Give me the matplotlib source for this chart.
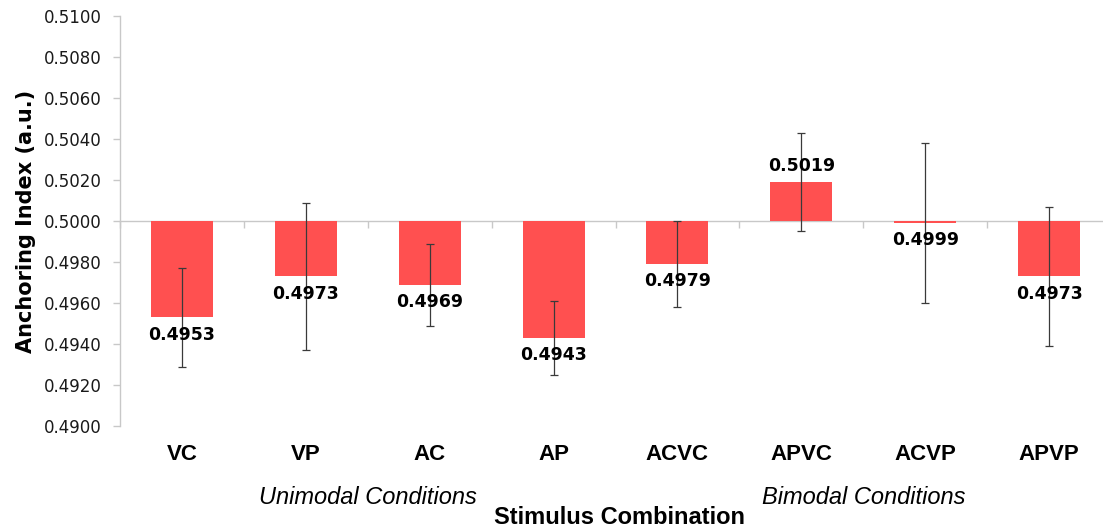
import matplotlib
matplotlib.use("Agg")
import matplotlib.pyplot as plt
import matplotlib.transforms as mtransforms
from matplotlib import font_manager

# Data
categories = ["VC", "VP", "AC", "AP", "ACVC", "APVC", "ACVP", "APVP"]
values = [0.4953, 0.4973, 0.4969, 0.4943, 0.4979, 0.5019, 0.4999, 0.4973]
errors = [0.0024, 0.0036, 0.0020, 0.0018, 0.0021, 0.0024, 0.0039, 0.0034]
yticks = [0.4900, 0.4920, 0.4940, 0.4960, 0.4980, 0.5000,
          0.5020, 0.5040, 0.5060, 0.5080, 0.5100]
baseline = 0.5
group_labels = ["Unimodal Conditions", "Bimodal Conditions"]
group_centers = [1.5, 5.5]

names = {f.name for f in font_manager.fontManager.ttflist}
narrow = "Liberation Sans Narrow" if "Liberation Sans Narrow" in names else "Liberation Sans"

W, H = 1103, 531
fig = plt.figure(figsize=(W / 100, H / 100), dpi=100)
ax = fig.add_axes([120 / W, 1 - 426 / H, (1111 - 120) / W, (426 - 16) / H])

x = list(range(len(categories)))
heights = [v - baseline for v in values]
ax.bar(x, heights, bottom=baseline, width=0.5, color="#FF5050", zorder=2)
ax.errorbar(x, values, yerr=errors, fmt="none", ecolor="#3a3a3a",
            elinewidth=0.9, capsize=3, capthick=0.9, zorder=3)

for xi, v in zip(x, values):
    if v >= baseline:
        ax.annotate(f"{v:.4f}", (xi, v), xytext=(0, 5), textcoords="offset points",
                    ha="center", va="bottom", fontsize=12.5, fontweight="bold",
                    color="black", zorder=4)
    else:
        ax.annotate(f"{v:.4f}", (xi, v), xytext=(0, -6), textcoords="offset points",
                    ha="center", va="top", fontsize=12.5, fontweight="bold",
                    color="black", zorder=4)

ax.set_xlim(-0.5, len(categories) - 0.5)
ax.set_ylim(0.49, 0.51)
ax.set_yticks(yticks)
ax.set_yticklabels([f"{t:.4f}" for t in yticks], fontsize=12, color="#1a1a1a")

# x axis drawn along the baseline, with ticks between categories
ax.spines["bottom"].set_position(("data", baseline))
ax.set_xticks([i - 0.5 for i in range(len(categories) + 1)])
ax.set_xticklabels([])
ax.spines["top"].set_visible(False)
ax.spines["right"].set_visible(False)
for s in ("left", "bottom"):
    ax.spines[s].set_color("#c8c8c8")
    ax.spines[s].set_linewidth(1.0)
    ax.spines[s].set_zorder(1)
ax.tick_params(axis="both", colors="#c8c8c8", length=5, width=1, direction="out")
ax.tick_params(axis="y", labelcolor="#1a1a1a", pad=8)

ax.set_ylabel("Anchoring Index (a.u.)", fontsize=15, fontweight="bold")
ax.yaxis.set_label_coords(-84 / (1111 - 120), 0.5)

trans = mtransforms.blended_transform_factory(ax.transData, fig.transFigure)
for xi, c in zip(x, categories):
    ax.text(xi, 1 - 455 / H, c, transform=trans, ha="center", va="center",
            fontsize=16, fontweight="bold", family=narrow)
for gc, gl in zip(group_centers, group_labels):
    ax.text(gc, 1 - 497 / H, gl, transform=trans, ha="center", va="center",
            fontsize=17, style="italic", family=narrow)
fig.text(620 / W, 1 - 518 / H, "Stimulus Combination", ha="center", va="center",
         fontsize=17, fontweight="bold", family=narrow)

fig.savefig("out.png", dpi=100)
